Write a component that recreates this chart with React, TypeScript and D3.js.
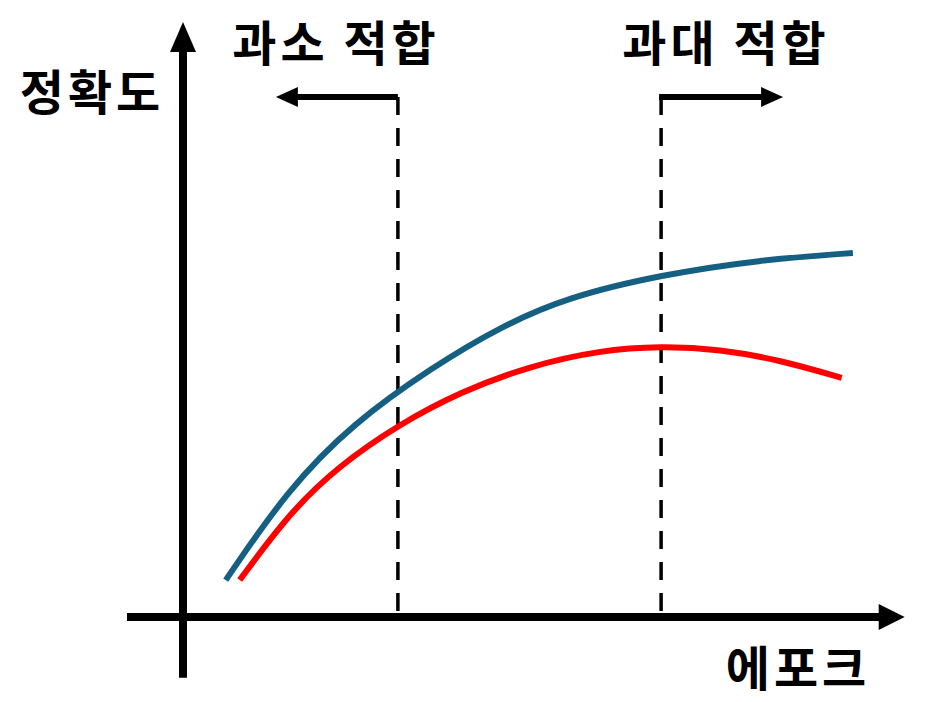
import * as d3 from "d3";
import React from "react";

// epoch (0-100) vs accuracy (0-100)
const trainEpoch = [6.1, 14.9, 24.3, 35.7, 45.3, 54.9, 68.3, 82.4, 95.7];
const trainAcc = [7.1, 24.4, 37.3, 48.1, 55.8, 61.5, 65.8, 68.7, 70.0];

const validEpoch = [8.1, 15.3, 22.4, 30.7, 39.6, 49.6, 59.6, 68.3, 76.7, 85.3, 94.1];
const validAcc = [7.1, 20.2, 29.2, 36.9, 43.3, 48.3, 51.3, 52.1, 51.5, 49.4, 46.0];

const underfitEpoch = 30.7;
const overfitEpoch = 68.3;

const labels = {
  y: "정확도",
  x: "에포크",
  under: "과소 적합",
  over: "과대 적합",
};

const FONT = "'Noto Sans CJK KR', 'Noto Sans', sans-serif";

const W = 928;
const H = 702;

const App: React.FC = () => {
  const x = d3.scaleLinear().domain([0, 100]).range([183, 883]);
  const y = d3.scaleLinear().domain([0, 100]).range([617, 97]);

  const line = d3
    .line<[number, number]>()
    .x((d) => x(d[0]))
    .y((d) => y(d[1]))
    .curve(d3.curveBasis);

  const train = trainEpoch.map((e, i) => [e, trainAcc[i]] as [number, number]);
  const valid = validEpoch.map((e, i) => [e, validAcc[i]] as [number, number]);

  const x0 = x(0);
  const y0 = y(0);
  const yTop = y(100);

  // axis extents
  const xAxisStart = x(-8);
  const xAxisEnd = x(103.1);
  const yAxisBottom = y(-11.7);
  const yAxisTop = y(114.4);

  const xu = x(underfitEpoch);
  const xo = x(overfitEpoch);
  const arrowLen = 122;

  return (
    <div style={{ margin: -8 }}>
      <svg width={W} height={H} style={{ display: "block", background: "#fff" }}>
        {/* y axis */}
        <line x1={x0} x2={x0} y1={yAxisBottom} y2={yAxisTop + 28} stroke="#000" strokeWidth={8} />
        <path
          d={`M${x0},${yAxisTop} L${x0 - 13},${yAxisTop + 30} L${x0 + 13},${yAxisTop + 30} Z`}
          fill="#000"
        />
        {/* x axis */}
        <line x1={xAxisStart} x2={xAxisEnd - 24} y1={y0} y2={y0} stroke="#000" strokeWidth={8} />
        <path
          d={`M${xAxisEnd},${y0} L${xAxisEnd - 26},${y0 - 13} L${xAxisEnd - 26},${y0 + 13} Z`}
          fill="#000"
        />

        {/* dashed markers */}
        {[xu, xo].map((xx, i) => (
          <line
            key={i}
            x1={xx}
            x2={xx}
            y1={yTop}
            y2={y0}
            stroke="#000"
            strokeWidth={3.5}
            strokeDasharray="18 13"
          />
        ))}

        {/* underfit arrow (left) */}
        <line x1={xu} x2={xu - arrowLen + 20} y1={yTop} y2={yTop} stroke="#000" strokeWidth={6} />
        <path
          d={`M${xu - arrowLen},${yTop} L${xu - arrowLen + 22},${yTop - 10} L${xu - arrowLen + 22},${yTop + 10} Z`}
          fill="#000"
        />
        {/* overfit arrow (right) */}
        <line x1={xo - 2} x2={xo + arrowLen - 20} y1={yTop} y2={yTop} stroke="#000" strokeWidth={6} />
        <path
          d={`M${xo + arrowLen},${yTop} L${xo + arrowLen - 22},${yTop - 10} L${xo + arrowLen - 22},${yTop + 10} Z`}
          fill="#000"
        />

        {/* curves */}
        <path d={line(train) ?? ""} fill="none" stroke="#156082" strokeWidth={6} />
        <path d={line(valid) ?? ""} fill="none" stroke="#FF0000" strokeWidth={6} />

        {/* labels */}
        <g
          fontFamily={FONT}
          fontWeight={700}
          fontSize={48}
          fill="#000"
          textAnchor="middle"
          letterSpacing={4}
        >
          <text x={92} y={110}>{labels.y}</text>
          <text x={798} y={686}>{labels.x}</text>
          <text x={336} y={61}>{labels.under}</text>
          <text x={726} y={61}>{labels.over}</text>
        </g>
      </svg>
    </div>
  );
};

export default App;
